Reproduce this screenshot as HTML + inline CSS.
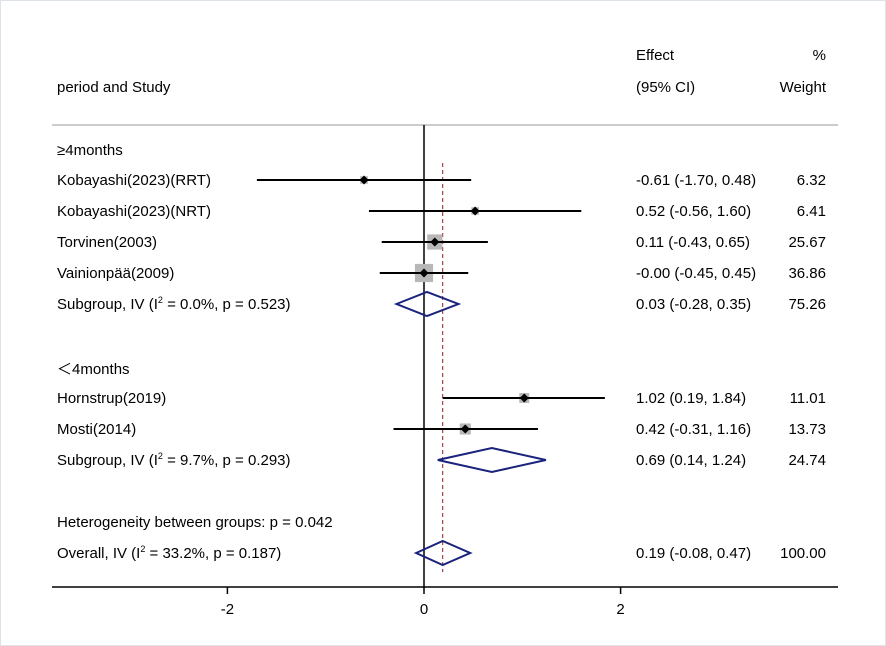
<!DOCTYPE html>
<html><head><meta charset="utf-8"><style>
body{margin:0;background:#fff}
svg{display:block;font-family:"Liberation Sans","Noto Sans CJK SC",Arial,sans-serif}
</style></head><body>
<svg width="886" height="646" viewBox="0 0 886 646">
<rect x="0.5" y="0.5" width="885" height="645" fill="#fff" stroke="#dde3e8"/>
<g font-size="15" fill="#000">
<text x="636" y="60">Effect</text>
<text x="826" y="60" text-anchor="end">%</text>
<text x="57" y="92">period and Study</text>
<text x="636" y="92">(95% CI)</text>
<text x="826" y="92" text-anchor="end">Weight</text>
</g>
<line x1="52" y1="125" x2="838" y2="125" stroke="#bbb" stroke-width="1.5"/>
<g id="plot"></g>
</svg>
<script>
const labels=["≥4months","Kobayashi(2023)(RRT)","Kobayashi(2023)(NRT)","Torvinen(2003)","Vainionpää(2009)","Subgroup, IV (I2 = 0.0%, p = 0.523)","＜4months","Hornstrup(2019)","Mosti(2014)","Subgroup, IV (I2 = 9.7%, p = 0.293)","Heterogeneity between groups: p = 0.042","Overall, IV (I2 = 33.2%, p = 0.187)"];
const rowY=[150,180,211,242,273,304,369,398,429,460,522,553];
const kinds=["head","study","study","study","study","sub","head","study","study","sub","text","sub"];
const est=[null,-0.61,0.52,0.11,-0.00,0.03,null,1.02,0.42,0.69,null,0.19];
const lo=[null,-1.70,-0.56,-0.43,-0.45,-0.28,null,0.19,-0.31,0.14,null,-0.08];
const hi=[null,0.48,1.60,0.65,0.45,0.35,null,1.84,1.16,1.24,null,0.47];
const weights=[null,6.32,6.41,25.67,36.86,75.26,null,11.01,13.73,24.74,null,100.00];
const ciText=[null,"-0.61 (-1.70, 0.48)","0.52 (-0.56, 1.60)","0.11 (-0.43, 0.65)","-0.00 (-0.45, 0.45)","0.03 (-0.28, 0.35)",null,"1.02 (0.19, 1.84)","0.42 (-0.31, 1.16)","0.69 (0.14, 1.24)",null,"0.19 (-0.08, 0.47)"];
const ticks=[-2,0,2];
const overall=0.19;
const X=v=>424+v*98.3;
const NS="http://www.w3.org/2000/svg";
const g=document.getElementById('plot');
function mk(t,a){const e=document.createElementNS(NS,t);for(const k in a)e.setAttribute(k,a[k]);g.appendChild(e);return e;}
let e=mk('line',{x1:X(0),y1:125,x2:X(0),y2:588,stroke:'#000','stroke-width':1.5});


e=mk('line',{x1:X(overall),y1:163,x2:X(overall),y2:572,stroke:'#a03030','stroke-width':1.1,'stroke-dasharray':'4,3'});


e=mk('line',{x1:52,y1:587,x2:838,y2:587,stroke:'#000','stroke-width':1.5});


ticks.forEach(t=>{
 let l=mk('line',{x1:X(t),y1:587,x2:X(t),y2:594,stroke:'#000','stroke-width':1.5});
 
 
 let tx=mk('text',{x:X(t),y:614,'text-anchor':'middle','font-size':15});
 tx.textContent=t;
 
 
});
labels.forEach((lab,i)=>{
 const y=rowY[i];
 const t=mk('text',{x:57,y:y+5,'font-size':15});
 const m=lab.match(/^(.*\(I)2( = .*)$/);
 if(m){t.textContent=m[1];const s=document.createElementNS(NS,'tspan');s.setAttribute('dy','-6');s.setAttribute('font-size','9');s.textContent='2';t.appendChild(s);const s2=document.createElementNS(NS,'tspan');s2.setAttribute('dy','6');s2.textContent=m[2];t.appendChild(s2);}
 else t.textContent=lab;
 
 
 if(ciText[i]){
  const c=mk('text',{x:636,y:y+5,'font-size':15});c.textContent=ciText[i];
  
  
  const w=mk('text',{x:826,y:y+5,'font-size':15,'text-anchor':'end'});w.textContent=weights[i].toFixed(2);
  
  
 }
 if(kinds[i]==='study'){
  const s=3*Math.sqrt(weights[i]);
  const r=mk('rect',{x:X(est[i])-s/2,y:y-s/2,width:s,height:s,fill:'#b8b8b8'});
  
  
  const l=mk('line',{x1:X(lo[i]),y1:y,x2:X(hi[i]),y2:y,stroke:'#000','stroke-width':2});
  
  
  const d=mk('path',{d:`M${X(est[i])-4.5},${y}L${X(est[i])},${y-4.5}L${X(est[i])+4.5},${y}L${X(est[i])},${y+4.5}Z`,fill:'#000'});
  
  
 } else if(kinds[i]==='sub'){
  const d=mk('path',{d:`M${X(lo[i])},${y}L${X(est[i])},${y-12}L${X(hi[i])},${y}L${X(est[i])},${y+12}Z`,fill:'none',stroke:'#1a237e','stroke-width':2});
  
  
 }
});
</script>
</body></html>
